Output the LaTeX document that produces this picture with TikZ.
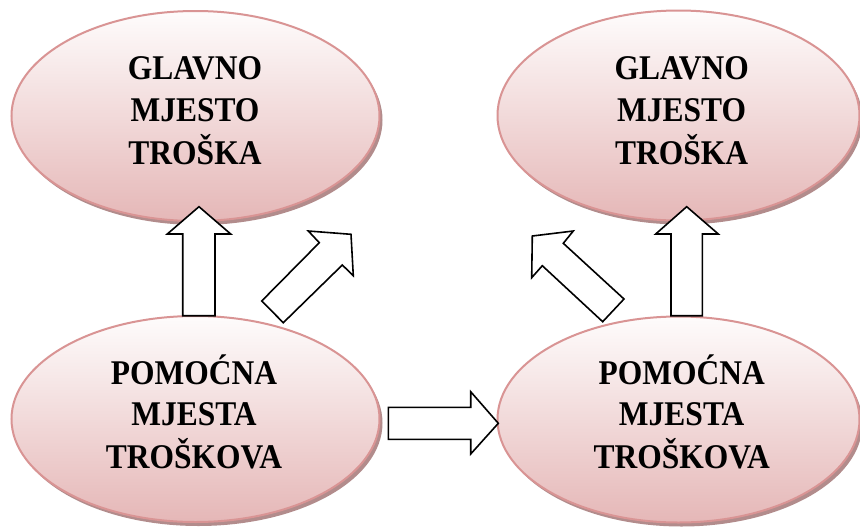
\documentclass[tikz,border=0pt]{standalone}
\usepackage{fontspec}
\setmainfont{Liberation Serif}
\usetikzlibrary{shapes.geometric,shadows}
\definecolor{ellborder}{RGB}{217,148,148}
\definecolor{elltop}{RGB}{254,252,252}
\definecolor{ellbot}{RGB}{229,183,183}
\definecolor{ellshadow}{RGB}{178,140,140}
\newcommand{\costlines}[3]{\scalebox{1}[1.1]{\fontsize{31.5}{38}\selectfont\bfseries
  \begin{tabular}{@{}c@{}}\rule{0pt}{30pt}#1\\#2\\#3\end{tabular}}}
\tikzset{
  costell/.style={ellipse, draw=ellborder, line width=2pt, inner sep=0pt,
    minimum width=368pt, minimum height=210pt,
    top color=elltop, bottom color=ellbot,
    drop shadow={shadow xshift=3pt, shadow yshift=-4pt, fill=ellshadow, opacity=1}},
  costtext/.style={align=center, inner sep=0pt},
  blockarrow/.style={draw=black, fill=white, line width=1.6pt, line join=miter}
}
\begin{document}
\begin{tikzpicture}[x=1pt,y=-1pt]
\useasboundingbox[fill=white] (0,0) rectangle (860,528);
% ellipses
\node[costell] (gl1) at (195.5,116) {};
\node[costell, minimum width=362pt] (gl2) at (678.5,115.5) {};
\node[costell, minimum height=206pt] (po1) at (195.5,419) {};
\node[costell, minimum width=362pt, minimum height=206pt] (po2) at (678.5,419.5) {};
% texts
\node[costtext] (tgl1) at (195,111.6) {\costlines{GLAVNO}{MJESTO}{TROŠKA}};
\node[costtext] (tgl2) at (681.7,111.6) {\costlines{GLAVNO}{MJESTO}{TROŠKA}};
\node[costtext] (tpo1) at (194,416.1) {\costlines{POMOĆNA}{MJESTA}{TROŠKOVA}};
\node[costtext] (tpo2) at (681.7,416.1) {\costlines{POMOĆNA}{MJESTA}{TROŠKOVA}};
% block arrows
\draw[blockarrow] (182.7,315.7) -- (182.7,234) -- (167.3,234) -- (199,206.7) -- (230.7,234) -- (215,234) -- (215,315.7) -- cycle;
\draw[blockarrow] (671,315.7) -- (671,234) -- (655.7,234) -- (686.7,206.7) -- (718.3,234) -- (702.3,234) -- (702.3,315.7) -- cycle;
\draw[blockarrow] (261.7,301) -- (319.3,242.7) -- (308.3,231) -- (351,234.3) -- (353.3,275.7) -- (342.3,265) -- (283.3,322.7) -- cycle;
\draw[blockarrow] (624,299) -- (563.3,243.3) -- (573.3,231) -- (532.3,236) -- (531.7,277.7) -- (542.3,265.7) -- (602.7,321.7) -- cycle;
\draw[blockarrow] (388.3,407.3) -- (470.7,407.3) -- (470.7,391.7) -- (498.3,423.3) -- (470.7,454) -- (470.7,439.3) -- (388.3,439.3) -- cycle;
\end{tikzpicture}
\end{document}
